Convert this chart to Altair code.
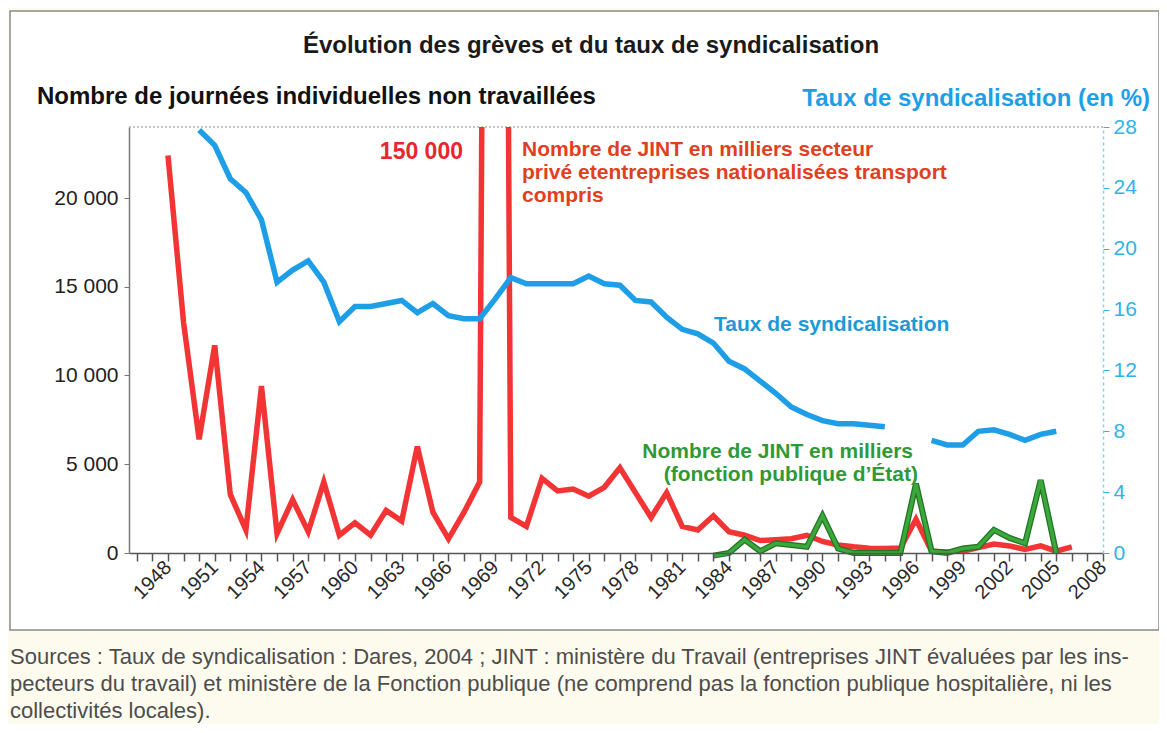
import json
import altair as alt
import pandas as pd

# ---------------- data ----------------
red_years = list(range(1948, 2007))
red_values = [22400, 13000, 6400, 11700, 3300, 1300, 9400, 1100, 3000, 1200,
              4000, 1000, 1700, 1000, 2400, 1800, 6000, 2300, 800, 2300,
              4000, 150000, 2000, 1500, 4200, 3500, 3600, 3200, 3700, 4800,
              3400, 2000, 3400, 1500, 1300, 2100, 1200, 1000, 700, 750,
              800, 1000, 650, 450, 350, 270, 260, 280, 1900, 100,
              50, 100, 300, 500, 400, 200, 400, 100, 350]

green_years = list(range(1983, 2006))
green_values = [-150, 0, 750, 100, 550, 450, 350, 2100, 250, 0, 0, 0, 0,
                3900, 100, 0, 250, 350, 1300, 850, 550, 4100, 0]

blue_years_a = list(range(1950, 1995))
blue_values_a = [27.8, 26.8, 24.6, 23.7, 21.9, 17.8, 18.6, 19.2, 17.8, 15.2,
                 16.2, 16.2, 16.4, 16.6, 15.8, 16.4, 15.6, 15.4, 15.4, 16.7,
                 18.1, 17.7, 17.7, 17.7, 17.7, 18.2, 17.7, 17.6, 16.6, 16.5,
                 15.5, 14.7, 14.4, 13.8, 12.6, 12.1, 11.3, 10.5, 9.6, 9.1,
                 8.7, 8.5, 8.5, 8.4, 8.3]
blue_years_b = list(range(1997, 2006))
blue_values_b = [7.4, 7.1, 7.1, 8.0, 8.1, 7.8, 7.4, 7.8, 8.0]

x_tick_years = list(range(1946, 2009))
x_label_years = list(range(1948, 2009, 3))
left_ticks = [0, 5000, 10000, 15000, 20000]
right_ticks = [0, 4, 8, 12, 16, 20, 24, 28]

title_text = "Évolution des grèves et du taux de syndicalisation"
left_title = "Nombre de journées individuelles non travaillées"
right_title = "Taux de syndicalisation (en %)"
peak_label = "150 000"
red_note = ["Nombre de JINT en milliers secteur",
            "privé etentreprises nationalisées  transport",
            "compris"]
blue_note = "Taux de syndicalisation"
green_note = ["Nombre de JINT en milliers", "(fonction publique d\u2019État)"]
sources = ["Sources : Taux de syndicalisation : Dares, 2004 ; JINT : ministère du Travail (entreprises JINT évaluées par les ins-",
           "pecteurs du travail) et ministère de la Fonction publique (ne comprend pas la fonction publique hospitalière, ni les",
           "collectivités locales)."]

# ---------------- styles ----------------
W, H = 974, 426
X_DOMAIN = [1945.5, 2008]
RED = "#f23434"
BLUE = "#1e9ee6"
BLUE_AX = "#2fb3e6"
GREEN = "#3aa83a"
GREEN_DARK = "#237323"
CREAM = "#fdfbee"
SANS = "Liberation Sans, Arial, sans-serif"

red_df = pd.DataFrame({"year": red_years, "value": red_values})
green_df = pd.DataFrame({"year": green_years, "value": green_values})
blue_df = pd.concat([
    pd.DataFrame({"year": blue_years_a, "rate": blue_values_a, "seg": "a"}),
    pd.DataFrame({"year": blue_years_b, "rate": blue_values_b, "seg": "b"}),
])

label_expr = ("indexof(" + json.dumps(x_label_years) +
              ", datum.value) >= 0 ? '' + datum.value : ''")

x_enc = alt.X("year:Q",
              scale=alt.Scale(domain=X_DOMAIN, nice=False, zero=False),
              axis=alt.Axis(values=x_tick_years, labelExpr=label_expr, title=None,
                            grid=False, labelAngle=315, labelAlign="right",
                            labelBaseline="middle", labelPadding=3,
                            labelOverlap=False, labelFlush=False,
                            labelFont=SANS, labelFontSize=20, labelColor="#2a2a2a",
                            domainColor="#555", domainWidth=1.5,
                            tickColor="#555", tickWidth=1.5, tickSize=8, zindex=2))

y_left = alt.Y("value:Q",
               scale=alt.Scale(domain=[0, 24000], nice=False),
               axis=alt.Axis(orient="left", values=left_ticks, title=None, grid=False,
                             labelExpr="replace(format(datum.value, ','), ',', ' ')",
                             labelFont=SANS, labelFontSize=21, labelColor="#222",
                             labelPadding=6, domainColor="#777", domainWidth=1.5,
                             tickColor="#777", tickSize=5, zindex=2))

y_right = alt.Y("rate:Q",
                scale=alt.Scale(domain=[0, 28], nice=False),
                axis=alt.Axis(orient="right", values=right_ticks, title=None, grid=False,
                              labelFont=SANS, labelFontSize=21, labelColor=BLUE_AX,
                              labelPadding=4, domainColor="#8fd0ef", domainDash=[3, 3],
                              domainWidth=1.5, tickColor=BLUE_AX, tickSize=6, zindex=2))

one = alt.Data(values=[{"k": 1}])

frame = alt.Chart(one).mark_rect(fill="white", stroke="#8a8a8a", strokeWidth=1.5).encode(
    x=alt.value(-119), x2=alt.value(1030), y=alt.value(-116), y2=alt.value(503))

topline = alt.Chart(one).mark_rule(color="#b5b5b5", strokeDash=[2, 2], strokeWidth=1.5).encode(
    x=alt.value(0), x2=alt.value(W), y=alt.value(0))

red = alt.Chart(red_df).mark_line(color=RED, strokeWidth=5.5, clip=True).encode(x=x_enc, y=y_left)
green_dark = alt.Chart(green_df).mark_line(color=GREEN_DARK, strokeWidth=6).encode(x=x_enc, y=y_left)
green = alt.Chart(green_df).mark_line(color=GREEN, strokeWidth=3.5).encode(x=x_enc, y=y_left)
blue = alt.Chart(blue_df).mark_line(color=BLUE, strokeWidth=5.5, clip=True).encode(
    x=x_enc, y=y_right, detail="seg:N")


def label(text, px, py, size, color, align="left", weight="bold", font=SANS):
    return alt.Chart(one).mark_text(align=align, baseline="middle", font=font,
                                    fontSize=size, fontWeight=weight, color=color).encode(
        x=alt.value(px), y=alt.value(py), text=alt.value(text))


texts = [
    label(title_text, 462, -81, 24, "#1a1a1a", align="center"),
    label(left_title, -92, -30, 24, "#111"),
    label(right_title, 1021, -28, 24, BLUE, align="right"),
    label(peak_label, 334, 25, 23, "#e8262e", align="right"),
    label(red_note[0], 393, 23, 21, "#e0401f"),
    label(red_note[1], 393, 46, 21, "#e0401f"),
    label(red_note[2], 393, 69, 21, "#e0401f"),
    label(blue_note, 585, 198, 21, "#1c9ad6"),
    label(green_note[0], 784, 325, 21, "#2f9a35", align="right"),
    label(green_note[1], 789, 348, 21, "#2f9a35", align="right"),
    label(sources[0], -119, 530, 22, "#4d4d4d", weight="normal"),
    label(sources[1], -119, 557, 22, "#4d4d4d", weight="normal"),
    label(sources[2], -119, 584, 22, "#4d4d4d", weight="normal"),
]

left_layer = alt.layer(red, green_dark, green)

chart = alt.layer(frame, topline, left_layer, blue, *texts).resolve_scale(
    y="independent"
).properties(
    width=W, height=H,
    padding={"left": 121, "top": 119, "right": 56, "bottom": 171},
    autosize=alt.AutoSizeParams(type="none"),
    background=CREAM,
).configure_view(stroke=None)

chart.save("out.html", embed_options={"renderer": "svg", "actions": False})
